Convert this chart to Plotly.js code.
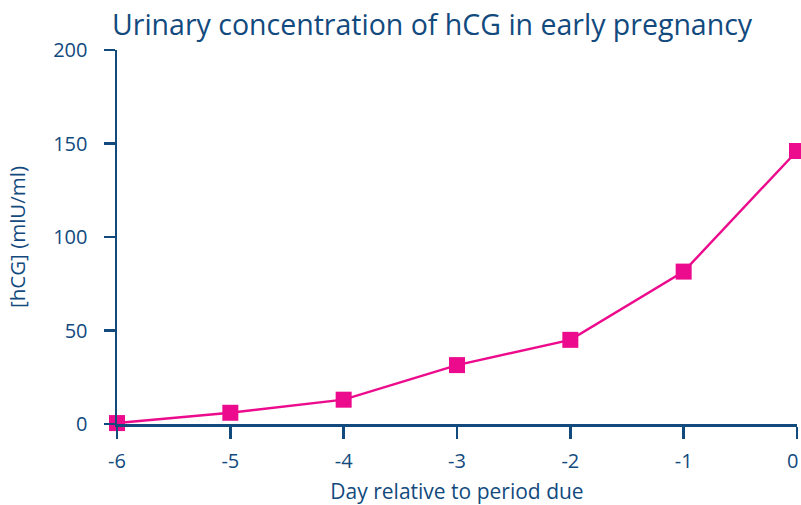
<!DOCTYPE html>
<html>
<head>
<meta charset="utf-8">
<script src="https://cdn.plot.ly/plotly-3.0.1.min.js"></script>
<style>html,body{margin:0;padding:0;background:#fff;}#chart{width:801px;height:505px;}</style>
</head>
<body>
<div id="chart"></div>
<script>
const days = [-6, -5, -4, -3, -2, -1, 0];
const hcg = [0.5, 6, 13, 31.5, 45, 81.5, 146];
const xTicks = [-6, -5, -4, -3, -2, -1, 0];
const xTickLabels = ['-6', '-5', '-4', '-3', '-2', '-1', '0'];
const yTicks = [0, 50, 100, 150, 200];

const navy = '#124a7e';
const pink = '#ec0b8c';
const font = '"Open Sans", Lato, sans-serif';

// the last tick label sits at the right edge of the figure; draw it as an annotation that ends at the edge
const lastIdx = xTicks.length - 1;
const shownTickText = xTickLabels.map((t, i) => i === lastIdx ? ' ' : t);

Plotly.newPlot('chart', [{
  x: days, y: hcg, type: 'scatter', mode: 'lines+markers',
  line: {color: pink, width: 2.4},
  marker: {symbol: 'square', size: 16, color: pink},
  cliponaxis: false, showlegend: false
}], {
  width: 801, height: 505,
  margin: {l: 117, r: 4, t: 50, b: 81},
  paper_bgcolor: '#fff', plot_bgcolor: '#fff',
  font: {family: font, color: navy},
  title: {text: 'Urinary concentration of hCG in early pregnancy', x: 112/801, xanchor: 'left', y: 1 - 35/505, yanchor: 'bottom', font: {size: 28.5, color: navy, family: font}},
  xaxis: {
    range: [-6, 0], tickvals: xTicks, ticktext: shownTickText,
    showline: true, linecolor: navy, linewidth: 2.5, ticks: 'outside', ticklen: 12, tickwidth: 2.5, tickcolor: navy,
    ticklabelstandoff: 5, ticklabeloverflow: 'allow',
    showgrid: false, zeroline: false, tickfont: {size: 20, color: navy},
    title: {text: 'Day relative to period due', font: {size: 21, color: navy}, standoff: 14}
  },
  yaxis: {
    range: [0, 200], tickvals: yTicks, ticktext: yTicks.map(String),
    showline: true, linecolor: navy, linewidth: 2.5, ticks: 'outside', ticklen: 11, tickwidth: 2.5, tickcolor: navy,
    ticklabelstandoff: 12,
    showgrid: false, zeroline: false, tickfont: {size: 20, color: navy},
    title: {text: '[hCG] (mlU/ml)', font: {size: 20.5, color: navy}, standoff: 22}
  },
  annotations: [{
    text: xTickLabels[lastIdx], xref: 'paper', yref: 'paper',
    x: 1 + 3/680, xanchor: 'right', y: -(460 - 424)/374, yanchor: 'middle',
    showarrow: false, font: {size: 20, color: navy, family: font}
  }]
}, {displayModeBar: false, staticPlot: true});
</script>
</body>
</html>
